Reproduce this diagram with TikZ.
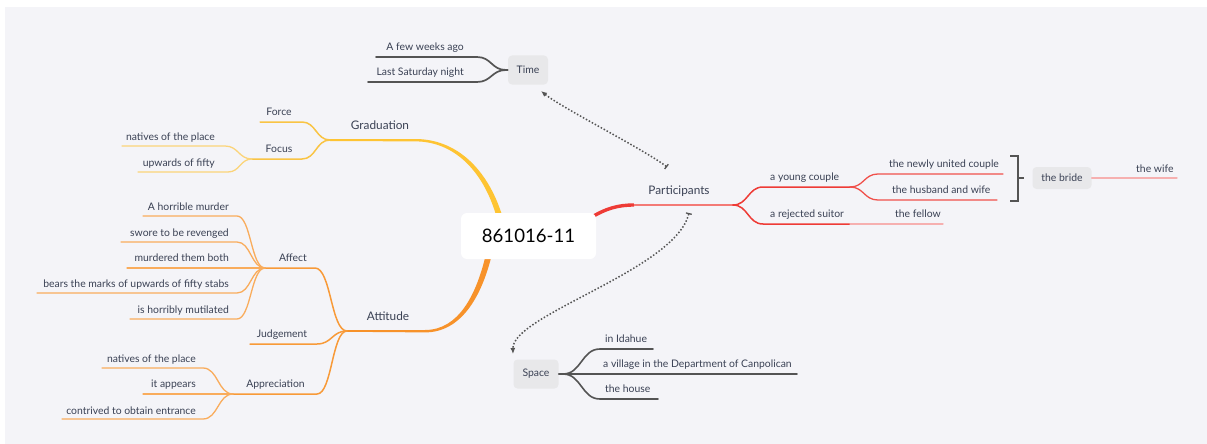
\documentclass[tikz,border=0pt]{standalone}
\usepackage{fontspec}
\setmainfont{Lato}
\usetikzlibrary{arrows.meta,calc}

\definecolor{paper}{HTML}{F4F4F8}
\definecolor{ink}{HTML}{3A4154}
\definecolor{chipc}{HTML}{E8E8EA}
\definecolor{greyln}{HTML}{545454}
\definecolor{linkc}{HTML}{555555}
\definecolor{yelA}{HTML}{FEC433}
\definecolor{yelB}{HTML}{F9C444}
\definecolor{yelC}{HTML}{FBD47A}
\definecolor{orgA}{HTML}{F7922A}
\definecolor{orgB}{HTML}{F89A38}
\definecolor{orgC}{HTML}{F9AC5C}
\definecolor{redA}{HTML}{EE3B36}
\definecolor{redB}{HTML}{F0504B}
\definecolor{redC}{HTML}{F37A76}
\definecolor{pinkC}{HTML}{F6B0B0}

\begin{document}
\begin{tikzpicture}[x=1pt,y=-1pt,
  txt/.style={text=ink, inner sep=0pt, text height=7.6pt, text depth=2.2pt,
              font=\fontsize{10.4}{12}\selectfont},
  head/.style={text=ink, inner sep=0pt, text height=8.6pt, text depth=2.4pt,
               font=\fontsize{11.8}{13}\selectfont},
  chip/.style={fill=chipc, rounded corners=4pt, inner sep=0pt, text=ink,
               font=\fontsize{10.4}{12}\selectfont},
  % smooth S-shaped branch with horizontal tangents at both ends
  mc/.style={to path={let \p1=($(\tikztotarget)-(\tikztostart)$) in
      .. controls ([xshift=0.5*\x1]\tikztostart) and ([xshift=-0.5*\x1]\tikztotarget)
      .. (\tikztotarget)}},
  ln/.style={line width=1.3pt, line cap=round},
  link/.style={draw=linkc, line width=1.5pt, dash pattern=on 1.5pt off 1.9pt},
]
\useasboundingbox (0,0) rectangle (1207,444);
\fill[paper] (5,7) rectangle (1207,444);

% ---------- main tapered branches ----------
\fill[yelA] (330,139.2) -- (415,139.0) .. controls (456,139) and (487,168) .. (502,215)
   -- (496,215) .. controls (483,171) and (454,141.2) .. (415,141.4) -- (330,141.0) -- cycle;
\fill[orgA] (347,330.2) -- (425,330.0) .. controls (459,330) and (476,294) .. (485,258)
   -- (491,258) .. controls (481,297) and (461,332.4) .. (425,332.4) -- (347,331.8) -- cycle;
\coordinate (pS) at (592,217);
\coordinate (pK) at (634,205);
\coordinate (pJ) at (733,205);
\draw[redA, line width=3.4pt] (pS) .. controls (606,208.5) and (618,205) .. (pK);
\draw[redC, line width=1.4pt] (pK) -- (pJ);

% ---------- Time ----------
\node[chip, minimum width=40pt, minimum height=29pt] (time) at (528,70) {Time};
\coordinate (tJ) at (506,70);
\coordinate (t1a) at (477,57);  \coordinate (t1b) at (376,57);
\coordinate (t2a) at (477,82);  \coordinate (t2b) at (368,82);
\draw[ln, greyln, line width=1.7pt] (time.west) -- (tJ) to[mc] (t1a) -- (t1b);
\draw[ln, greyln, line width=1.7pt] (tJ) to[mc] (t2a) -- (t2b);
\node[txt, anchor=east] (t1) at (464,48) {A few weeks ago};
\node[txt, anchor=east] (t2) at (464,73) {Last Saturday night};

% ---------- Graduation ----------
\coordinate (gJ) at (330,140);
\coordinate (frA) at (302,122); \coordinate (frB) at (260,122);
\coordinate (fcA) at (302,159); \coordinate (fJ) at (252,159);
\coordinate (n1a) at (225,146); \coordinate (n1b) at (122,146);
\coordinate (n2a) at (228,172); \coordinate (n2b) at (138,172);
\draw[ln, yelB, line width=1.5pt] (gJ) to[mc] (frA) -- (frB);
\draw[ln, yelB, line width=1.5pt] (gJ) to[mc] (fcA) -- (fJ);
\draw[ln, yelC] (fJ) to[mc] (n1a) -- (n1b);
\draw[ln, yelC] (fJ) to[mc] (n2a) -- (n2b);
\node[head] (grad) at (380,126) {Graduation};
\node[txt] (force) at (279,113) {Force};
\node[txt] (focus) at (279,150) {Focus};
\node[txt, anchor=east] (n1) at (215,138) {natives of the place};
\node[txt, anchor=east] (n2) at (215,164) {upwards of fifty};

% ---------- Attitude ----------
\coordinate (aJ) at (347,331);
\coordinate (afA) at (315,268); \coordinate (afJ) at (265,268);
\coordinate (jdA) at (317,344); \coordinate (jdB) at (250,344);
\coordinate (apA) at (317,394); \coordinate (apJ) at (233,394);
\draw[ln, orgB, line width=1.5pt] (aJ) to[mc] (afA) -- (afJ);
\draw[ln, orgB, line width=1.5pt] (aJ) to[mc] (jdA) -- (jdB);
\draw[ln, orgB, line width=1.5pt] (aJ) to[mc] (apA) -- (apJ);
\node[head] (att) at (388,317) {Attitude};
\node[txt] (affect) at (293,259) {Affect};
\node[txt] (judge) at (282,335) {Judgement};
\node[txt] (appr) at (275.5,385) {Appreciation};

% Affect leaves
\coordinate (c1a) at (237,216); \coordinate (c1b) at (143,216);
\coordinate (c2a) at (237,242); \coordinate (c2b) at (121,242);
\coordinate (c3b) at (127,268);
\coordinate (c4a) at (237,293); \coordinate (c4b) at (37,293);
\coordinate (c5a) at (237,319); \coordinate (c5b) at (130,319);
\draw[ln, orgC] (afJ) to[mc] (c1a) -- (c1b);
\draw[ln, orgC] (afJ) to[mc] (c2a) -- (c2b);
\draw[ln, orgC] (afJ) -- (c3b);
\draw[ln, orgC] (afJ) to[mc] (c4a) -- (c4b);
\draw[ln, orgC] (afJ) to[mc] (c5a) -- (c5b);
\node[txt, anchor=east] (c1) at (229,208) {A horrible murder};
\node[txt, anchor=east] (c2) at (229,234) {swore to be revenged};
\node[txt, anchor=east] (c3) at (229,259) {murdered them both};
\node[txt, anchor=east] (c4) at (229,285) {bears the marks of upwards of fifty stabs};
\node[txt, anchor=east] (c5) at (229,311) {is horribly mutilated};

% Appreciation leaves
\coordinate (d1a) at (203,368); \coordinate (d1b) at (102,368);
\coordinate (d2b) at (143,394);
\coordinate (d3a) at (203,419); \coordinate (d3b) at (62,419);
\draw[ln, orgC] (apJ) to[mc] (d1a) -- (d1b);
\draw[ln, orgC] (apJ) -- (d2b);
\draw[ln, orgC] (apJ) to[mc] (d3a) -- (d3b);
\node[txt, anchor=east] (d1) at (196,360) {natives of the place};
\node[txt, anchor=east] (d2) at (196,385) {it appears};
\node[txt, anchor=east] (d3) at (196,412) {contrived to obtain entrance};

% ---------- Participants ----------
\node[head] (part) at (679,191) {Participants};
\coordinate (ycA) at (763,187); \coordinate (ycJ) at (850,187);
\coordinate (rsA) at (763,224); \coordinate (rsB) at (850,224);
\coordinate (fwB) at (943,224);
\draw[ln, redA, line width=1.5pt] (pJ) to[mc] (ycA) -- (ycJ);
\draw[ln, redA, line width=1.5pt] (pJ) to[mc] (rsA) -- (rsB);
\draw[ln, pinkC] (rsB) -- (fwB);
\node[txt, anchor=west] (yc) at (770,178) {a young couple};
\node[txt, anchor=west] (rs) at (770,215) {a rejected suitor};
\node[txt, anchor=west] (fw) at (895,215) {the fellow};

\coordinate (e1a) at (878,174); \coordinate (e1b) at (1003,174);
\coordinate (e2a) at (878,200); \coordinate (e2b) at (997,200);
\draw[ln, redB] (ycJ) to[mc] (e1a) -- (e1b);
\draw[ln, redB] (ycJ) to[mc] (e2a) -- (e2b);
\node[txt, anchor=west] (e1) at (889,165) {the newly united couple};
\node[txt, anchor=west] (e2) at (892,191) {the husband and wife};

% summary bracket and its topic
\coordinate (bT) at (1010,156); \coordinate (bB) at (1010,201);
\coordinate (bM) at (1018,178);
\draw[greyln, line width=1.4pt] (bT) -- (1018,156) -- (1018,201) -- (bB);
\node[chip, minimum width=59pt, minimum height=22pt] (bride) at (1062,178) {the bride};
\draw[greyln, line width=1.4pt] (bM) -- ([xshift=-8pt]bride.west);
\coordinate (wB) at (1177,178);
\draw[ln, pinkC] (bride.east) -- (wB);
\node[txt, anchor=west] (wife) at (1136,170) {the wife};

% ---------- Space ----------
\node[chip, minimum width=45pt, minimum height=29pt] (space) at (536,374) {Space};
\coordinate (sJ) at (563,374);
\coordinate (s1a) at (600,349); \coordinate (s1b) at (653,349);
\coordinate (s2b) at (797,374);
\coordinate (s3a) at (600,399); \coordinate (s3b) at (658,399);
\draw[ln, greyln, line width=1.6pt] (space.east) -- (sJ) to[mc] (s1a) -- (s1b);
\draw[ln, greyln, line width=1.6pt] (sJ) -- (s2b);
\draw[ln, greyln, line width=1.6pt] (sJ) to[mc] (s3a) -- (s3b);
\node[txt, anchor=west] (s1) at (605,340) {in Idahue};
\node[txt, anchor=west] (s2) at (603,365) {a village in the Department of Canpolican};
\node[txt, anchor=west] (s3) at (605,390) {the house};

% ---------- relationship links ----------
\coordinate (ta) at (667,167); \coordinate (tb) at (541,91);
\draw[link, {Bar[width=6pt,line width=1.3pt]}-{Latex[length=6pt,width=5pt]}]
  (ta) .. controls (645,150) and (562,108) .. (tb);
\coordinate (sa) at (689,213); \coordinate (sb) at (513,354);
\draw[link, {Bar[width=6pt,line width=1.3pt]}-{Latex[length=6pt,width=5pt]}]
  (sa) .. controls (675,270) and (512,315) .. (sb);

% ---------- central topic ----------
\node[fill=white, rounded corners=6pt, minimum width=135pt, minimum height=46pt,
      inner sep=0pt, text=black, font=\fontsize{18.6}{20}\selectfont] (root) at (528.5,236) {861016-11};
\end{tikzpicture}
\end{document}
